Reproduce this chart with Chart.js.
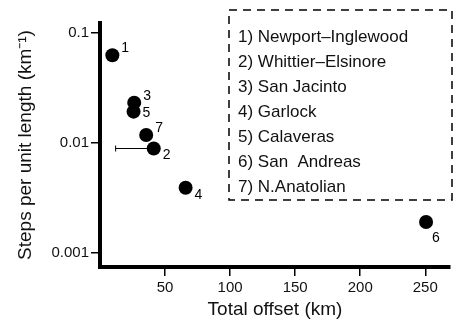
<!DOCTYPE html>
<html>
<head>
<meta charset="utf-8">
<script src="https://cdn.jsdelivr.net/npm/chart.js@4"></script>
<style>
  html, body { margin: 0; padding: 0; background: #fff; }
  #wrap { width: 457px; height: 323px; }
</style>
</head>
<body>
<div id="wrap"><canvas id="faultChart" width="457" height="323"></canvas></div>
<script>
// fault data
const faultIds = ['1', '2', '3', '4', '5', '6', '7'];
const faultNames = ['Newport\u2013Inglewood', 'Whittier\u2013Elsinore', 'San Jacinto', 'Garlock', 'Calaveras', 'San  Andreas', 'N.Anatolian'];
const totalOffset = [9.5, 41.3, 26.3, 65.8, 25.8, 250.6, 35.5];
const stepsPerKm = [0.063, 0.0089, 0.0233, 0.0039, 0.0193, 0.0019, 0.0118];
const offsetLow = [null, 12, null, null, null, null, null];
const xTicks = [50, 100, 150, 200, 250];
const yTicks = [0.001, 0.01, 0.1];
const yTickLabels = ['0.001', '0.01', '0.1'];

// where the little number goes relative to its dot
const labelSide = ['ne', 'se', 'ne', 'se', 'e', 's', 'ne'];

const FONT = "'Liberation Sans', Arial, Helvetica, sans-serif";

const points = totalOffset.map((x, i) => ({ x: x, y: stepsPerKm[i] }));

// error bar + point numbers
const markPlugin = {
    id: 'marks',
    afterDatasetsDraw(chart) {
        const c = chart.ctx;
        const xs = chart.scales.x, ys = chart.scales.y;
        c.save();
        c.strokeStyle = '#000';
        c.lineWidth = 1;
        offsetLow.forEach((lo, i) => {
            if (lo === null) return;
            const py = ys.getPixelForValue(stepsPerKm[i]);
            const x0 = xs.getPixelForValue(lo);
            const x1 = xs.getPixelForValue(totalOffset[i]);
            c.beginPath();
            c.moveTo(x0, py); c.lineTo(x1, py);
            c.moveTo(x0, py - 3); c.lineTo(x0, py + 3);
            c.stroke();
        });
        c.fillStyle = '#000';
        c.font = '14px ' + FONT;
        c.textBaseline = 'middle';
        c.textAlign = 'left';
        faultIds.forEach((id, i) => {
            const px = xs.getPixelForValue(totalOffset[i]);
            const py = ys.getPixelForValue(stepsPerKm[i]);
            let dx = 9, dy = 0;
            if (labelSide[i] === 'ne') dy = -7;
            if (labelSide[i] === 'se') dy = 7;
            if (labelSide[i] === 'e') dy = 2;
            if (labelSide[i] === 's') { dx = 6; dy = 16; }
            c.fillText(id, px + dx, py + dy);
        });
        c.restore();
    }
};

// dashed key box in the top right
const keyPlugin = {
    id: 'key',
    afterDraw(chart) {
        const c = chart.ctx;
        c.save();
        c.strokeStyle = '#000';
        c.lineWidth = 1.5;
        c.setLineDash([8, 6]);
        c.strokeRect(229, 10, 223, 190);
        c.setLineDash([]);
        c.fillStyle = '#111';
        c.font = '17px ' + FONT;
        c.textBaseline = 'middle';
        c.textAlign = 'left';
        faultNames.forEach((name, i) => {
            c.fillText(faultIds[i] + ') ' + name, 238, 37 + i * 25);
        });
        c.restore();
    }
};

new Chart(document.getElementById('faultChart'), {
    type: 'scatter',
    data: {
        datasets: [{
            data: points,
            backgroundColor: '#000',
            borderWidth: 0,
            pointRadius: 7,
            pointHoverRadius: 7
        }]
    },
    options: {
        responsive: false,
        animation: false,
        events: [],
        layout: { padding: { left: 14, top: 23, right: 0, bottom: 2 } },
        plugins: {
            legend: { display: false },
            tooltip: { enabled: false }
        },
        scales: {
            x: {
                type: 'linear',
                min: 0,
                max: 269,
                afterBuildTicks: function(scale) {
                    scale.ticks = xTicks.map(v => ({ value: v }));
                },
                afterFit: function(scale) { scale.height = 54; },
                border: { display: true, color: '#000', width: 4 },
                grid: { display: true, drawOnChartArea: false, drawTicks: true, tickLength: 9, color: '#000', lineWidth: 1.5 },
                ticks: { color: '#111', padding: 3, maxRotation: 0, font: { size: 15, family: FONT } },
                title: {
                    display: true,
                    text: 'Total offset (km)',
                    color: '#111',
                    padding: { top: 0, bottom: 0 },
                    font: { size: 19, family: FONT }
                }
            },
            y: {
                type: 'logarithmic',
                min: 0.00074,
                max: 0.124,
                afterBuildTicks: function(scale) {
                    scale.ticks = yTicks.map(v => ({ value: v }));
                },
                afterFit: function(scale) { scale.width = 86; },
                border: { display: true, color: '#000', width: 4 },
                grid: { display: true, drawOnChartArea: false, drawTicks: true, tickLength: 9, color: '#000', lineWidth: 1.5 },
                ticks: {
                    color: '#111',
                    padding: 2,
                    font: { size: 15, family: FONT },
                    callback: function(value) {
                        const k = yTicks.indexOf(value);
                        return k >= 0 ? yTickLabels[k] : '';
                    }
                },
                title: {
                    display: true,
                    text: 'Steps per unit length (km\u207B\u00B9)',
                    color: '#111',
                    padding: { top: 0, bottom: 0 },
                    font: { size: 19, family: FONT }
                }
            }
        }
    },
    plugins: [markPlugin, keyPlugin]
});
</script>
</body>
</html>
